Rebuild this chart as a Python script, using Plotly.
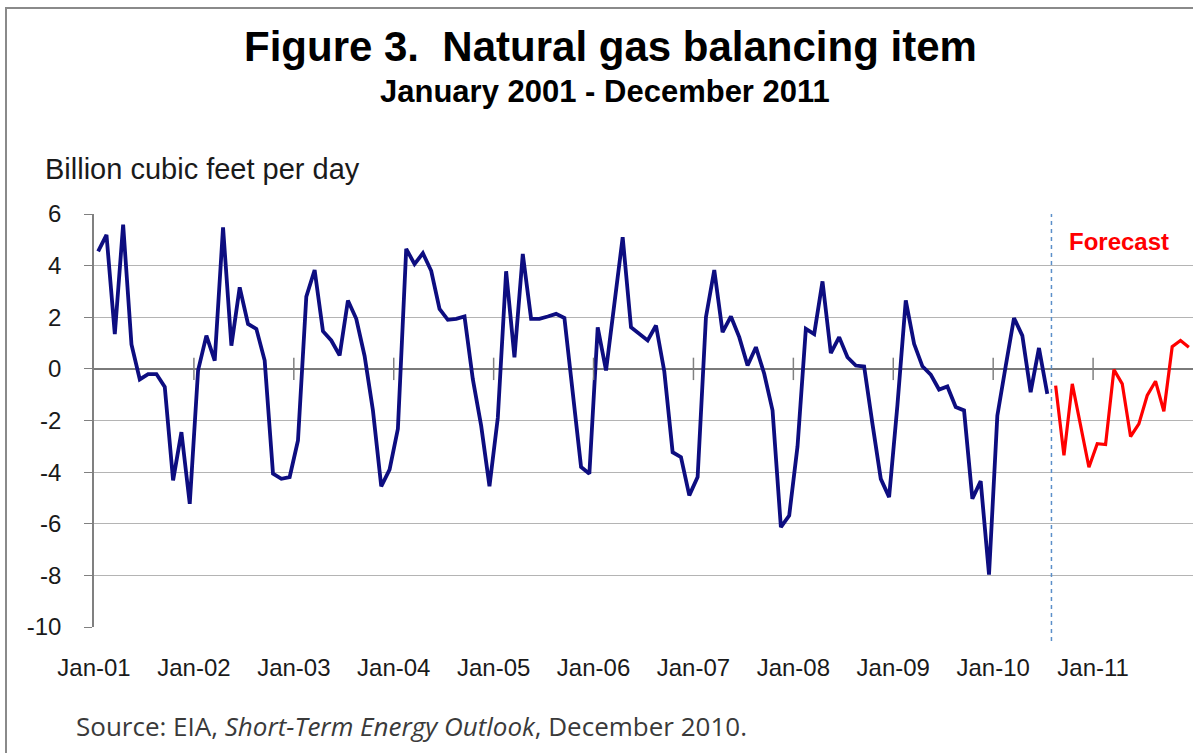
import plotly.graph_objects as go

# Monthly balancing item, billion cubic feet per day (Jan 2001 - Jul 2010 history)
history = [
    4.55, 5.19, 1.35, 5.59, 0.95, -0.41, -0.20, -0.20, -0.70, -4.32, -2.45, -5.23,   # 2001
    -0.06, 1.29, 0.32, 5.48, 0.90, 3.16, 1.74, 1.55, 0.32, -4.06, -4.26, -4.19,      # 2002
    -2.77, 2.80, 3.83, 1.46, 1.10, 0.52, 2.65, 1.94, 0.50, -1.60, -4.55, -3.90,      # 2003
    -2.32, 4.65, 4.06, 4.48, 3.80, 2.32, 1.90, 1.94, 2.03, -0.40, -2.20, -4.55,      # 2004
    -1.90, 3.78, 0.45, 4.45, 1.94, 1.94, 2.03, 2.13, 1.97, -0.80, -3.80, -4.06,      # 2005
    1.61, -0.06, 2.52, 5.10, 1.61, 1.35, 1.10, 1.68, -0.10, -3.23, -3.42, -4.90,     # 2006
    -4.19, 2.00, 3.83, 1.42, 2.03, 1.23, 0.13, 0.84, -0.19, -1.61, -6.13, -5.68,     # 2007
    -3.00, 1.55, 1.35, 3.39, 0.61, 1.23, 0.45, 0.13, 0.09, -2.13, -4.26, -4.97,      # 2008
    -1.40, 2.65, 0.97, 0.10, -0.22, -0.80, -0.68, -1.48, -1.61, -5.03, -4.35, -7.97, # 2009
    -1.81, 0.10, 1.97, 1.29, -0.90, 0.81, -0.97,                                     # 2010
]
# STEO forecast, Aug 2010 - Dec 2011
forecast = [
    -0.65, -3.35, -0.58, -2.26, -3.81,
    -2.90, -2.93, -0.03, -0.58, -2.62, -2.13, -1.03, -0.48, -1.64, 0.86, 1.10, 0.84,
]
year_labels = ['Jan-01', 'Jan-02', 'Jan-03', 'Jan-04', 'Jan-05', 'Jan-06',
               'Jan-07', 'Jan-08', 'Jan-09', 'Jan-10', 'Jan-11']
y_ticks = [6, 4, 2, 0, -2, -4, -6, -8, -10]

W, H = 1193, 753
L, R, T, B = 94, 0, 214, 126
PW, PH = W - L - R, H - T - B


def px(x):
    """page x pixel -> paper coordinate"""
    return (x - L) / PW


def py(y):
    """page y pixel -> paper coordinate"""
    return (H - B - y) / PH


n_hist = len(history)
x_hist = list(range(n_hist))
x_fore = list(range(n_hist, n_hist + len(forecast)))
n_total = n_hist + len(forecast)
year_starts = [12 * k - 0.5 for k in range(len(year_labels))]

fig = go.Figure()
fig.add_trace(go.Scatter(x=x_hist, y=history, mode='lines',
                         line=dict(color='#0d0d80', width=3.8), hoverinfo='skip'))
fig.add_trace(go.Scatter(x=x_fore, y=forecast, mode='lines',
                         line=dict(color='#ff0000', width=3.2), hoverinfo='skip'))
# small category tick marks sitting on the zero line
fig.add_trace(go.Scatter(x=year_starts[1:], y=[0] * (len(year_starts) - 1), mode='markers',
                         marker=dict(symbol='line-ns', size=16,
                                     line=dict(color='#808080', width=1.5)),
                         hoverinfo='skip'))

# forecast divider
fig.add_shape(type='line', xref='x', yref='paper', x0=n_hist - 0.5, x1=n_hist - 0.5,
              y0=py(641), y1=1, line=dict(color='#5b8fc9', width=1.5, dash='4px,4px'))

# outer frame
fig.add_shape(type='line', xref='paper', yref='paper', x0=px(6), x1=px(6),
              y0=py(760), y1=py(8), line=dict(color='#8a8a8a', width=2))
fig.add_shape(type='line', xref='paper', yref='paper', x0=px(5), x1=px(1200),
              y0=py(8), y1=py(8), line=dict(color='#8a8a8a', width=2))

ann = [
    dict(text='<b>Figure 3.\u00a0 Natural gas balancing item</b>', x=px(610), y=py(46),
         font=dict(size=42, family='Liberation Sans', color='#000000'),
         xanchor='center', yanchor='middle'),
    dict(text='<b>January 2001 - December 2011</b>', x=px(605), y=py(91),
         font=dict(size=31, family='Liberation Sans', color='#000000'),
         xanchor='center', yanchor='middle'),
    dict(text='Billion cubic feet per day', x=px(43), y=py(169),
         font=dict(size=29, family='Liberation Sans', color='#1a1a1a'),
         xanchor='left', yanchor='middle'),
    dict(text='<b>Forecast</b>', x=px(1119), y=py(241),
         font=dict(size=24, family='Liberation Sans', color='#ff0000'),
         xanchor='center', yanchor='middle'),
    dict(text='Source: EIA, <i>Short-Term Energy Outlook</i>, December 2010.',
         x=px(74), y=py(726),
         font=dict(size=26, family='Open Sans', color='#3a3a3a'),
         xanchor='left', yanchor='middle'),
]
for a in ann:
    a.update(xref='paper', yref='paper', showarrow=False)

fig.update_layout(
    width=W, height=H,
    margin=dict(l=L, r=R, t=T, b=B),
    paper_bgcolor='white', plot_bgcolor='white',
    showlegend=False,
    annotations=ann,
    font=dict(family='Liberation Sans', color='#1a1a1a'),
    xaxis=dict(range=[-0.5, n_total - 0.5], showgrid=False, zeroline=False,
               tickmode='array', tickvals=year_starts, ticktext=year_labels,
               ticks='', ticklabelstandoff=24, tickfont=dict(size=24),
               showline=False, fixedrange=True),
    yaxis=dict(range=[-10, 6], tickmode='array', tickvals=y_ticks,
               ticktext=[str(v) for v in y_ticks],
               showgrid=True, gridcolor='#b4b4b4', gridwidth=1.3,
               zeroline=True, zerolinecolor='#7a7a7a', zerolinewidth=1.6,
               showline=True, linecolor='#808080', linewidth=1.6,
               ticks='outside', ticklen=8, tickcolor='#808080',
               ticklabelstandoff=18, tickfont=dict(size=24), fixedrange=True),
)

fig.write_html("out.html", config={'displayModeBar': False},
               post_script="document.body.style.margin = '0';")
